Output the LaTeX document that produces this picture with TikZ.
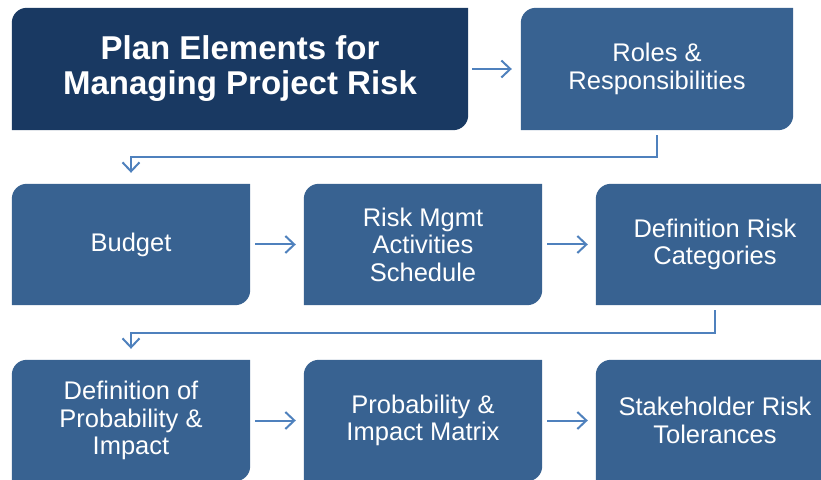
\documentclass[tikz,border=0pt]{standalone}
\usepackage{fontspec}
\setmainfont{Liberation Sans}
\usetikzlibrary{arrows.meta,backgrounds}
\definecolor{titlec}{RGB}{25,57,98}
\definecolor{boxc}{RGB}{56,98,145}
\definecolor{arrc}{RGB}{79,129,189}
\tikzset{
  x=1pt,y=1pt,
  stepbox/.style={rectangle, inner sep=0pt, minimum width=238pt, minimum height=121pt,
    text=white, align=center, font=\fontsize{25.5pt}{27.5pt}\selectfont},
  titlebox/.style={stepbox, minimum width=456pt, minimum height=122pt,
    font=\bfseries\fontsize{33pt}{35pt}\selectfont},
  conn/.style={draw=arrc, line width=2pt, -{Straight Barb[length=9pt,width=17pt,line width=2pt]}},
}
\newcommand\diagfill[3]{% node, colour, radius
  \fill[#2] (#1.south west) -- ([yshift=-#3]#1.north west)
    arc[start angle=180,end angle=90,radius=#3] -- (#1.north east)
    -- ([yshift=#3]#1.south east) arc[start angle=0,end angle=-90,radius=#3] -- cycle;}
\begin{document}
\begin{tikzpicture}
\useasboundingbox (0,0) rectangle (821,479);
\clip (0,0) rectangle (821,479);
\node[titlebox] (title) at (240,410) {Plan Elements for\\Managing Project Risk};
\node[stepbox, minimum width=272pt, minimum height=122pt] (roles) at (657,410) {Roles \&\\Responsibilities};
\node[stepbox] (budget) at (131,234.5) {Budget};
\node[stepbox] (sched) at (423,234.5) {Risk Mgmt\\Activities\\Schedule};
\node[stepbox] (defcat) at (715,234.5) {Definition Risk\\Categories};
\node[stepbox] (defprob) at (131,58.5) {Definition of\\Probability \&\\Impact};
\node[stepbox] (matrix) at (423,58.5) {Probability \&\\Impact Matrix};
\node[stepbox] (stake) at (715,58.5) {Stakeholder Risk\\Tolerances};
\begin{scope}[on background layer]
  \diagfill{title}{titlec}{15pt}
  \diagfill{roles}{boxc}{15pt}
  \diagfill{budget}{boxc}{15pt}
  \diagfill{sched}{boxc}{15pt}
  \diagfill{defcat}{boxc}{15pt}
  \diagfill{defprob}{boxc}{15pt}
  \diagfill{matrix}{boxc}{15pt}
  \diagfill{stake}{boxc}{15pt}
\end{scope}
\draw[conn, shorten <=4pt, shorten >=9pt] (title.east) -- (roles.west);
\draw[conn, shorten <=5pt, shorten >=8pt] (budget.east) -- (sched.west);
\draw[conn, shorten <=5pt, shorten >=8pt] (sched.east) -- (defcat.west);
\draw[conn, shorten <=5pt, shorten >=8pt] (defprob.east) -- (matrix.west);
\draw[conn, shorten <=5pt, shorten >=8pt] (matrix.east) -- (stake.west);
\draw[conn] ([yshift=-5pt]roles.south) -- ++(0,-22) -| ([yshift=11pt]budget.north);
\draw[conn] ([yshift=-5pt]defcat.south) -- ++(0,-23) -| ([yshift=11pt]defprob.north);
\end{tikzpicture}
\end{document}
